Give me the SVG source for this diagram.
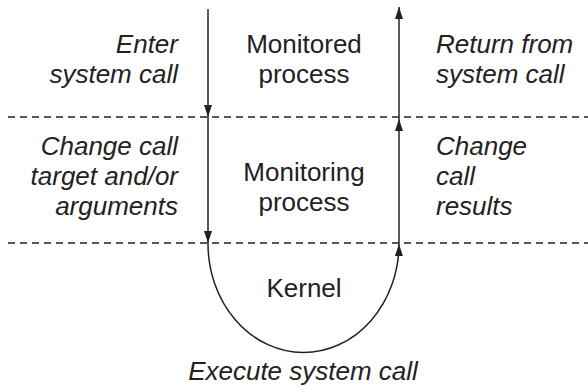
<svg xmlns="http://www.w3.org/2000/svg" width="588" height="388" viewBox="0 0 588 388">
<style>
.t{font-family:"Liberation Sans",Arial,sans-serif;font-size:26px;fill:#222}
.i{font-style:italic}
.l{stroke:#222;stroke-width:1.5;fill:none}
.d{stroke:#222;stroke-width:1.3;stroke-dasharray:7 5;fill:none}
</style>
<defs>
<marker id="ah" viewBox="0 0 12 8" refX="12" refY="4" markerWidth="12" markerHeight="8" markerUnits="userSpaceOnUse" orient="auto">
<path d="M0,0 L12,4 L0,8 Z" fill="#222"/>
</marker>
</defs>
<g id="dividers">
<line class="d" x1="8" y1="117" x2="588" y2="117"/>
<line class="d" x1="8" y1="243" x2="588" y2="243"/>
</g>
<g id="monitored">
<text class="t" x="304" y="53" text-anchor="middle">Monitored</text>
<text class="t" x="304" y="83" text-anchor="middle">process</text>
</g>
<g id="monitoring">
<text class="t" x="304" y="181" text-anchor="middle">Monitoring</text>
<text class="t" x="304" y="211" text-anchor="middle">process</text>
</g>
<g id="kernel">
<text class="t" x="304" y="297" text-anchor="middle">Kernel</text>
</g>
<g id="labels">
<text class="t i" x="178" y="53" text-anchor="end">Enter</text>
<text class="t i" x="178" y="83" text-anchor="end">system call</text>
<text class="t i" x="178" y="155" text-anchor="end">Change call</text>
<text class="t i" x="178" y="185" text-anchor="end">target and/or</text>
<text class="t i" x="178" y="215" text-anchor="end">arguments</text>
<text class="t i" x="436" y="53">Return from</text>
<text class="t i" x="436" y="83">system call</text>
<text class="t i" x="436" y="155">Change</text>
<text class="t i" x="436" y="185">call</text>
<text class="t i" x="436" y="215">results</text>
<text class="t i" x="303" y="380" text-anchor="middle">Execute system call</text>
</g>
<g id="connectors">
<path class="l" d="M208,9 L208,117" marker-end="url(#ah)"/>
<path class="l" d="M208,117 L208,243" marker-end="url(#ah)"/>
<path class="l" d="M208,243 A95.5,109 0 0 0 399,244" marker-end="url(#ah)"/>
<path class="l" d="M399,244 L399,119" marker-end="url(#ah)"/>
<path class="l" d="M399,119 L399,7" marker-end="url(#ah)"/>
</g>
</svg>
